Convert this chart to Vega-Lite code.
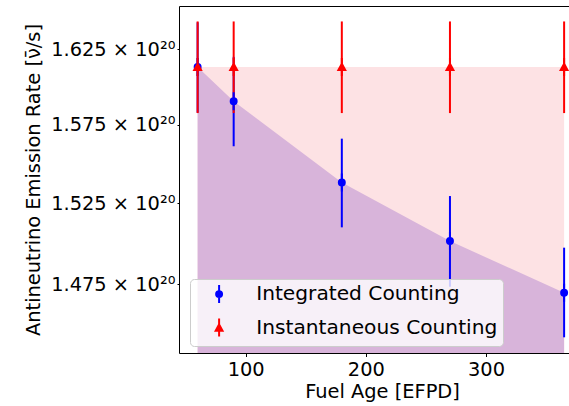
{
  "$schema": "https://vega.github.io/schema/vega-lite/v6.json",
  "autosize": "none",
  "padding": {"left": 179, "top": 6, "right": 0, "bottom": 53},
  "width": 391,
  "height": 347,
  "background": "white",
  "config": {
    "font": "DejaVu Sans",
    "view": {"stroke": "black", "strokeWidth": 1},
    "axis": {"labelFont": "DejaVu Sans", "titleFont": "DejaVu Sans", "labelColor": "black", "titleColor": "black", "titleFontWeight": "normal", "grid": false, "domain": false, "tickColor": "black"},
    "legend": {
      "orient": "none", "legendX": 11, "legendY": 273,
      "fillColor": "rgba(255,255,255,0.8)", "strokeColor": "#cccccc", "cornerRadius": 4,
      "padding": 5, "symbolOffset": 14, "labelOffset": 27, "rowPadding": 6.5,
      "symbolSize": 324, "symbolStrokeWidth": 2, "labelFont": "DejaVu Sans", "labelFontSize": 20.2, "labelColor": "black", "labelLimit": 400
    }
  },
  "data": {
    "values": [
      {"series": "Integrated Counting", "age": 60, "rate": 1.6130e20, "lo": 1.5830e20, "hi": 1.6430e20},
      {"series": "Integrated Counting", "age": 90, "rate": 1.5905e20, "lo": 1.5612e20, "hi": 1.6198e20},
      {"series": "Integrated Counting", "age": 180, "rate": 1.5381e20, "lo": 1.5099e20, "hi": 1.5661e20},
      {"series": "Integrated Counting", "age": 270, "rate": 1.5014e20, "lo": 1.4734e20, "hi": 1.5295e20},
      {"series": "Integrated Counting", "age": 365, "rate": 1.4697e20, "lo": 1.4430e20, "hi": 1.4973e20},
      {"series": "Instantaneous Counting", "age": 60, "rate": 1.6130e20, "lo": 1.5827e20, "hi": 1.6436e20},
      {"series": "Instantaneous Counting", "age": 90, "rate": 1.6130e20, "lo": 1.5827e20, "hi": 1.6436e20},
      {"series": "Instantaneous Counting", "age": 180, "rate": 1.6130e20, "lo": 1.5827e20, "hi": 1.6436e20},
      {"series": "Instantaneous Counting", "age": 270, "rate": 1.6130e20, "lo": 1.5827e20, "hi": 1.6436e20},
      {"series": "Instantaneous Counting", "age": 365, "rate": 1.6130e20, "lo": 1.5827e20, "hi": 1.6436e20}
    ]
  },
  "encoding": {
    "x": {
      "field": "age", "type": "quantitative",
      "scale": {"domain": [44.5, 369.9], "nice": false, "zero": false},
      "axis": {"values": [100, 200, 300], "labelFontSize": 19.4, "tickSize": 3.5, "labelPadding": 4, "title": "Fuel Age [EFPD]", "titleFontSize": 19.4, "titlePadding": 4, "titleX": 203}
    },
    "y": {
      "field": "rate", "type": "quantitative",
      "scale": {"type": "log", "domain": [1.4337e20, 1.6541e20], "nice": false, "zero": false},
      "axis": {"values": [1.475e20, 1.525e20, 1.575e20, 1.625e20], "labelExpr": "format(datum.value/1e20, '.3f') + ' × 10²⁰'", "labelFontSize": 19.4, "tickSize": 2, "labelPadding": 2, "title": "Antineutrino Emission Rate [ν̄/s]", "titleFontSize": 19.4, "titlePadding": 7}
    }
  },
  "layer": [
    {
      "transform": [{"filter": "datum.series === 'Instantaneous Counting'"}],
      "mark": {"type": "area", "color": "#fde2e4", "clip": true, "opacity": 1},
      "encoding": {"y2": {"datum": 1.4e20}}
    },
    {
      "transform": [{"filter": "datum.series === 'Integrated Counting'"}],
      "mark": {"type": "area", "color": "#d8b4da", "clip": true, "opacity": 1},
      "encoding": {"y2": {"datum": 1.4e20}}
    },
    {
      "transform": [{"filter": "datum.series === 'Integrated Counting'"}],
      "mark": {"type": "rule", "color": "#0000ff", "strokeWidth": 2, "clip": true},
      "encoding": {"y": {"field": "lo", "type": "quantitative"}, "y2": {"field": "hi"}}
    },
    {
      "transform": [{"filter": "datum.series === 'Instantaneous Counting'"}],
      "mark": {"type": "rule", "color": "#ff0000", "strokeWidth": 2, "clip": true},
      "encoding": {"y": {"field": "lo", "type": "quantitative"}, "y2": {"field": "hi"}}
    },
    {
      "mark": {"type": "point", "size": 324, "strokeWidth": 2, "opacity": 1, "clip": true},
      "encoding": {
        "fill": {"field": "series", "type": "nominal", "scale": {"domain": ["Integrated Counting", "Instantaneous Counting"], "range": ["#0000ff", "#ff0000"]}, "legend": {"title": null}},
        "stroke": {"field": "series", "type": "nominal", "scale": {"domain": ["Integrated Counting", "Instantaneous Counting"], "range": ["#0000ff", "#ff0000"]}, "legend": {"title": null}},
        "shape": {"field": "series", "type": "nominal", "scale": {"domain": ["Integrated Counting", "Instantaneous Counting"], "range": ["M-0.33,0A0.33,0.33,0,1,1,0.33,0A0.33,0.33,0,1,1,-0.33,0Z M0,-1L0,1", "M0,-0.36L0.38,0.34L-0.38,0.34Z M0,-1L0,1"]}, "legend": {"title": null}}
      }
    }
  ]
}
